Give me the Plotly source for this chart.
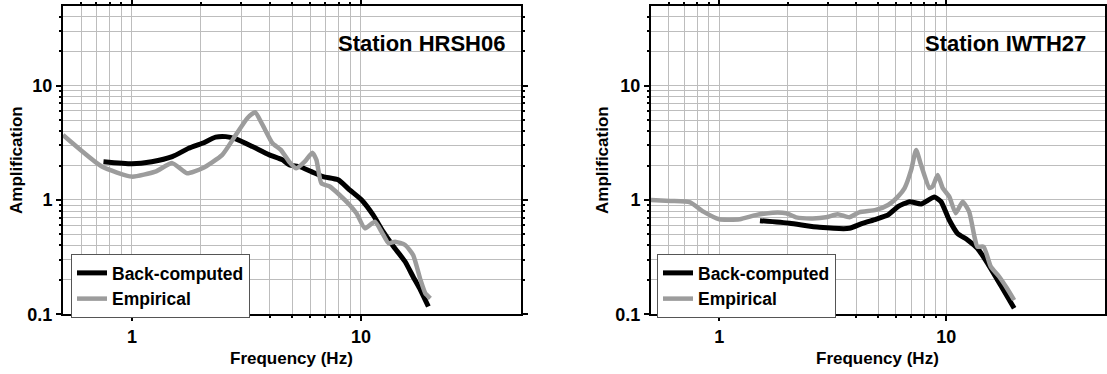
import plotly.graph_objects as go

# ---------------- data ----------------
# Station HRSH06
hrsh_back_f = [0.751, 1.0, 1.22, 1.5, 1.77, 2.03, 2.32, 2.57, 2.84, 3.36, 3.98, 4.55, 4.88, 5.4,
               6.08, 6.84, 7.95, 8.95, 10.07, 11.3, 12.5, 13.9, 15.6, 16.9, 18.2, 19.7]
hrsh_back_a = [2.16, 2.07, 2.16, 2.39, 2.83, 3.13, 3.54, 3.58, 3.42, 2.93, 2.48, 2.24, 2.02, 1.96,
               1.77, 1.6, 1.5, 1.22, 1.0, 0.74, 0.528, 0.39, 0.288, 0.213, 0.163, 0.117]
hrsh_emp_f = [0.5, 0.739, 1.0, 1.265, 1.5, 1.74, 2.03, 2.48, 2.84, 3.19, 3.45, 3.72, 4.11, 4.47,
              4.86, 5.22, 5.68, 6.13, 6.39, 6.72, 7.31, 8.09, 8.95, 9.58, 10.4, 11.5, 12.3,
              13.2, 14.1, 15.6, 16.9, 18.2, 19.1, 20.1]
hrsh_emp_a = [3.7, 1.96, 1.6, 1.77, 2.1, 1.71, 1.89, 2.48, 3.7, 5.19, 5.85, 4.53, 3.13, 2.74,
              2.16, 1.89, 2.16, 2.59, 2.24, 1.4, 1.31, 1.1, 0.9, 0.76, 0.565, 0.646, 0.528,
              0.418, 0.432, 0.404, 0.33, 0.2, 0.153, 0.138]

# Station IWTH27
iwth_back_f = [1.51, 2.04, 2.76, 3.74, 4.27, 4.89, 5.54, 6.12, 6.89, 7.74, 8.86, 9.47, 10.3,
               11.2, 12.4, 13.7, 15.2, 16.8, 18.2, 19.9]
iwth_back_a = [0.659, 0.625, 0.577, 0.565, 0.625, 0.678, 0.74, 0.874, 0.966, 0.923, 1.06, 0.966,
               0.668, 0.51, 0.447, 0.378, 0.279, 0.2, 0.153, 0.113]
iwth_emp_f = [0.5, 0.61, 0.744, 0.851, 1.0, 1.23, 1.46, 1.72, 1.97, 2.18, 2.58, 2.95, 3.32, 3.74,
              4.13, 4.89, 5.54, 6.12, 6.55, 7.0, 7.36, 7.74, 8.43, 8.7, 9.16, 9.64, 10.3,
              11.0, 11.8, 12.6, 13.3, 13.7, 14.6, 15.7, 17.1, 18.5, 19.9]
iwth_emp_a = [1.0, 0.98, 0.954, 0.79, 0.678, 0.678, 0.74, 0.774, 0.765, 0.705, 0.69, 0.705, 0.75,
              0.705, 0.78, 0.818, 0.904, 1.07, 1.27, 1.83, 2.74, 2.02, 1.27, 1.31, 1.65, 1.27,
              1.07, 0.765, 0.966, 0.79, 0.478, 0.39, 0.39, 0.261, 0.213, 0.169, 0.133]

stations = ["Station HRSH06", "Station IWTH27"]
series_names = ["Back-computed", "Empirical"]

x_major = [1, 10]
x_major_text = ["1", "10"]
x_minor = [0.6, 0.7, 0.8, 0.9, 2, 3, 4, 5, 6, 7, 8, 9]
y_major = [0.1, 1, 10]
y_major_text = ["0.1", "1", "10"]
y_minor = [0.2, 0.3, 0.4, 0.5, 0.6, 0.7, 0.8, 0.9, 2, 3, 4, 5, 6, 7, 8, 9, 20, 30, 40]

# ---------------- figure ----------------
W, H = 1107, 374
FONT = "Liberation Sans, Arial, Helvetica, sans-serif"
BLACK = "#000000"
GRAY = "#9c9c9c"
GRID = "#bdbdbd"

fig = go.Figure()

panels = [
    (hrsh_back_f, hrsh_back_a, hrsh_emp_f, hrsh_emp_a, "x", "y", "legend"),
    (iwth_back_f, iwth_back_a, iwth_emp_f, iwth_emp_a, "x2", "y2", "legend2"),
]
for bf, ba, ef, ea, xa, ya, lg in panels:
    fig.add_trace(go.Scatter(x=bf, y=ba, mode="lines", name=series_names[0],
                             line=dict(color=BLACK, width=5, shape="spline", smoothing=0.5),
                             xaxis=xa, yaxis=ya, legend=lg))
    fig.add_trace(go.Scatter(x=ef, y=ea, mode="lines", name=series_names[1],
                             line=dict(color=GRAY, width=4.5, shape="spline", smoothing=0.5),
                             xaxis=xa, yaxis=ya, legend=lg))

tickfont = dict(family=FONT, size=18, color="black", weight="bold")

def xaxis_cfg(domain, anchor):
    return dict(
        type="log", domain=domain, anchor=anchor, range=[-0.30103, 1.69897],
        automargin=False,
        tickmode="array", tickvals=x_major, ticktext=x_major_text,
        showgrid=True, gridcolor=GRID, gridwidth=1,
        showline=True, linecolor="black", linewidth=2, mirror="allticks",
        ticks="outside", ticklen=5, tickwidth=2, tickcolor="black",
        tickfont=tickfont, zeroline=False,
        minor=dict(tickmode="array", tickvals=x_minor, showgrid=True, gridcolor=GRID,
                   gridwidth=1, ticks="outside", ticklen=2, tickwidth=1.5, tickcolor="black"),
    )

def yaxis_cfg(anchor):
    return dict(
        type="log", domain=[1 - 314.3 / H, 1 - 5.7 / H], anchor=anchor, range=[-1, 1.69897],
        automargin=False,
        tickmode="array", tickvals=y_major, ticktext=y_major_text,
        showgrid=True, gridcolor=GRID, gridwidth=1,
        showline=True, linecolor="black", linewidth=2, mirror="allticks",
        ticks="outside", ticklen=5, tickwidth=2, tickcolor="black",
        tickfont=tickfont, zeroline=False,
        minor=dict(tickmode="array", tickvals=y_minor, showgrid=True, gridcolor=GRID,
                   gridwidth=1, ticks="outside", ticklen=2, tickwidth=1.5, tickcolor="black"),
    )

legend_common = dict(
    xanchor="left", yanchor="top", bgcolor="white", bordercolor="#555555", borderwidth=1,
    font=dict(family=FONT, size=17.5, color="black", weight="bold"),
    itemwidth=30, tracegroupgap=0,
)

fig.update_layout(
    width=W, height=H, autosize=False,
    margin=dict(l=0, r=0, t=0, b=0, autoexpand=False),
    paper_bgcolor="white", plot_bgcolor="white",
    xaxis=xaxis_cfg([63 / W, 521 / W], "y"),
    yaxis=yaxis_cfg("x"),
    xaxis2=xaxis_cfg([651 / W, 1105 / W], "y2"),
    yaxis2=yaxis_cfg("x2"),
    legend=dict(x=71 / W, y=1 - 254 / H, **legend_common),
    legend2=dict(x=657 / W, y=1 - 254 / H, **legend_common),
    showlegend=True,
)

title_font = dict(family=FONT, size=17, color="black", weight="bold")
station_font = dict(family=FONT, size=22, color="black", weight="bold")
annos = [
    dict(text="Frequency (Hz)", x=292 / W, y=1 - 358 / H, font=title_font,
         xanchor="center", yanchor="middle"),
    dict(text="Frequency (Hz)", x=878 / W, y=1 - 358 / H, font=title_font,
         xanchor="center", yanchor="middle"),
    dict(text="Amplification", x=17 / W, y=1 - 160 / H, font=title_font, textangle=-90,
         xanchor="center", yanchor="middle"),
    dict(text="Amplification", x=603 / W, y=1 - 160 / H, font=title_font, textangle=-90,
         xanchor="center", yanchor="middle"),
    dict(text=stations[0], x=507 / W, y=1 - 43 / H, font=station_font,
         xanchor="right", yanchor="middle"),
    dict(text=stations[1], x=1088 / W, y=1 - 43 / H, font=station_font,
         xanchor="right", yanchor="middle"),
]
for a in annos:
    fig.add_annotation(xref="paper", yref="paper", showarrow=False, **a)

fig.write_html("out.html")
